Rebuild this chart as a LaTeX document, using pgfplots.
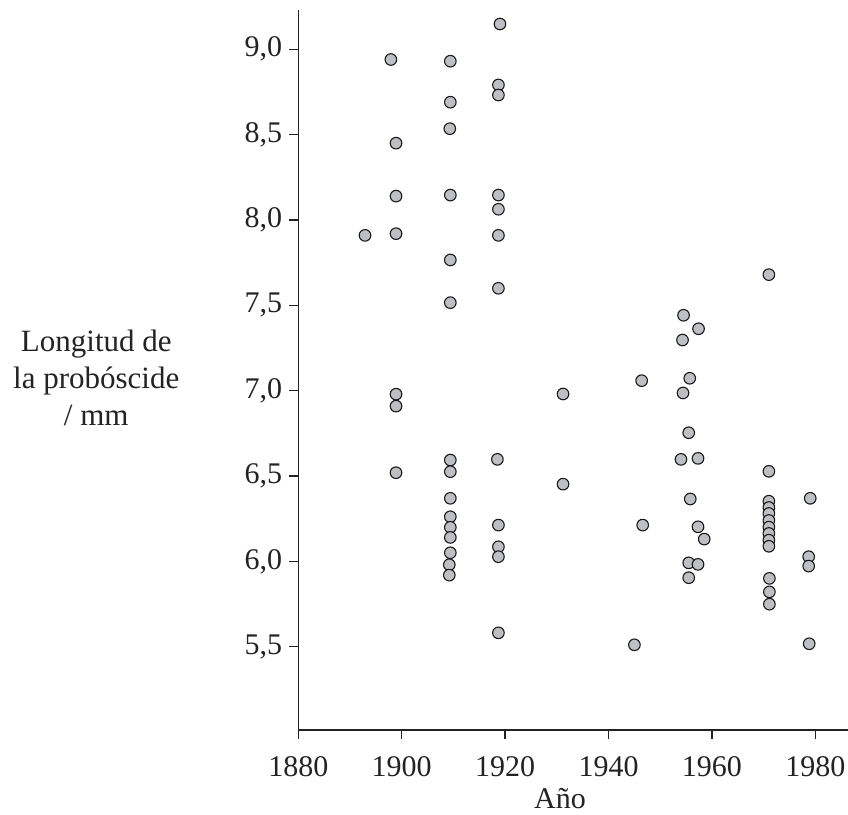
\documentclass[border=0pt]{standalone}
\usepackage{fontspec}
\setmainfont{Liberation Serif}
\usepackage{pgfplots}
\pgfplotsset{compat=1.18}
\definecolor{axisgray}{RGB}{35,35,35}
\definecolor{markfill}{RGB}{190,191,195}
\begin{document}
\begin{tikzpicture}
\begin{axis}[
  scale only axis, width=274.85pt, height=360pt,
  xmin=1880, xmax=1986.3, ymin=5.013, ymax=9.23,
  axis lines*=left,
  axis line style={axisgray, line width=0.65pt},
  tick style={axisgray, line width=0.65pt},
  tick align=outside, major tick length=4.5pt,
  xtick={1880,1900,1920,1940,1960,1980},
  ytick={5.5,6,6.5,7,7.5,8,8.5,9},
  x tick label style={/pgf/number format/1000 sep={}, yshift=-5pt},
  y tick label style={/pgf/number format/fixed, /pgf/number format/fixed zerofill, /pgf/number format/precision=1, /pgf/number format/use comma},
  /pgf/number format/assume math mode=true,
  tick label style={font=\fontsize{15}{17}\selectfont, text=axisgray},
  clip=false,
]
\addplot[only marks, mark=*, mark size=2.9pt, mark options={fill=markfill, draw=black!90, line width=0.55pt}] table {
x y
1892.9 7.91
1897.9 8.94
1898.9 8.45
1898.9 8.14
1898.9 7.92
1898.9 6.98
1898.9 6.91
1898.9 6.52
1909.4 8.93
1909.4 8.69
1909.3 8.535
1909.4 8.146
1909.4 7.766
1909.4 7.516
1909.4 6.594
1909.4 6.526
1909.4 6.370
1909.4 6.262
1909.4 6.200
1909.4 6.141
1909.4 6.051
1909.2 5.981
1909.2 5.920
1919.0 9.148
1918.7 8.791
1918.7 8.732
1918.7 8.146
1918.7 8.063
1918.7 7.910
1918.7 7.60
1918.5 6.598
1918.7 6.213
1918.7 6.086
1918.7 6.028
1918.7 5.582
1931.2 6.981
1931.2 6.453
1946.4 7.059
1946.6 6.213
1945.0 5.512
1954.5 7.442
1957.4 7.363
1954.3 7.297
1955.7 7.073
1954.4 6.987
1955.5 6.754
1954.0 6.598
1957.3 6.604
1955.8 6.366
1957.3 6.203
1958.5 6.131
1955.5 5.992
1957.3 5.983
1955.5 5.905
1971.0 7.680
1971.0 6.528
1971.0 6.353
1971.0 6.316
1971.0 6.281
1971.0 6.240
1971.0 6.201
1971.0 6.164
1971.0 6.125
1971.0 6.089
1971.1 5.901
1971.1 5.822
1971.1 5.750
1979.0 6.370
1978.7 6.028
1978.7 5.973
1978.8 5.518
};
\node[anchor=base, font=\fontsize{15}{17}\selectfont, text=axisgray] at (rel axis cs:0.476,0) [yshift=-39.5pt] {Año};
\node[align=center, font=\fontsize{15.5}{18.5}\selectfont, text=axisgray] at (rel axis cs:0,0.4888) [xshift=-101pt] {Longitud de\\la probóscide\\/ mm};
\end{axis}
\pgfresetboundingbox
\path (-149.15pt,-42.5pt) rectangle (274.85pt,365pt);
\end{tikzpicture}
\end{document}
